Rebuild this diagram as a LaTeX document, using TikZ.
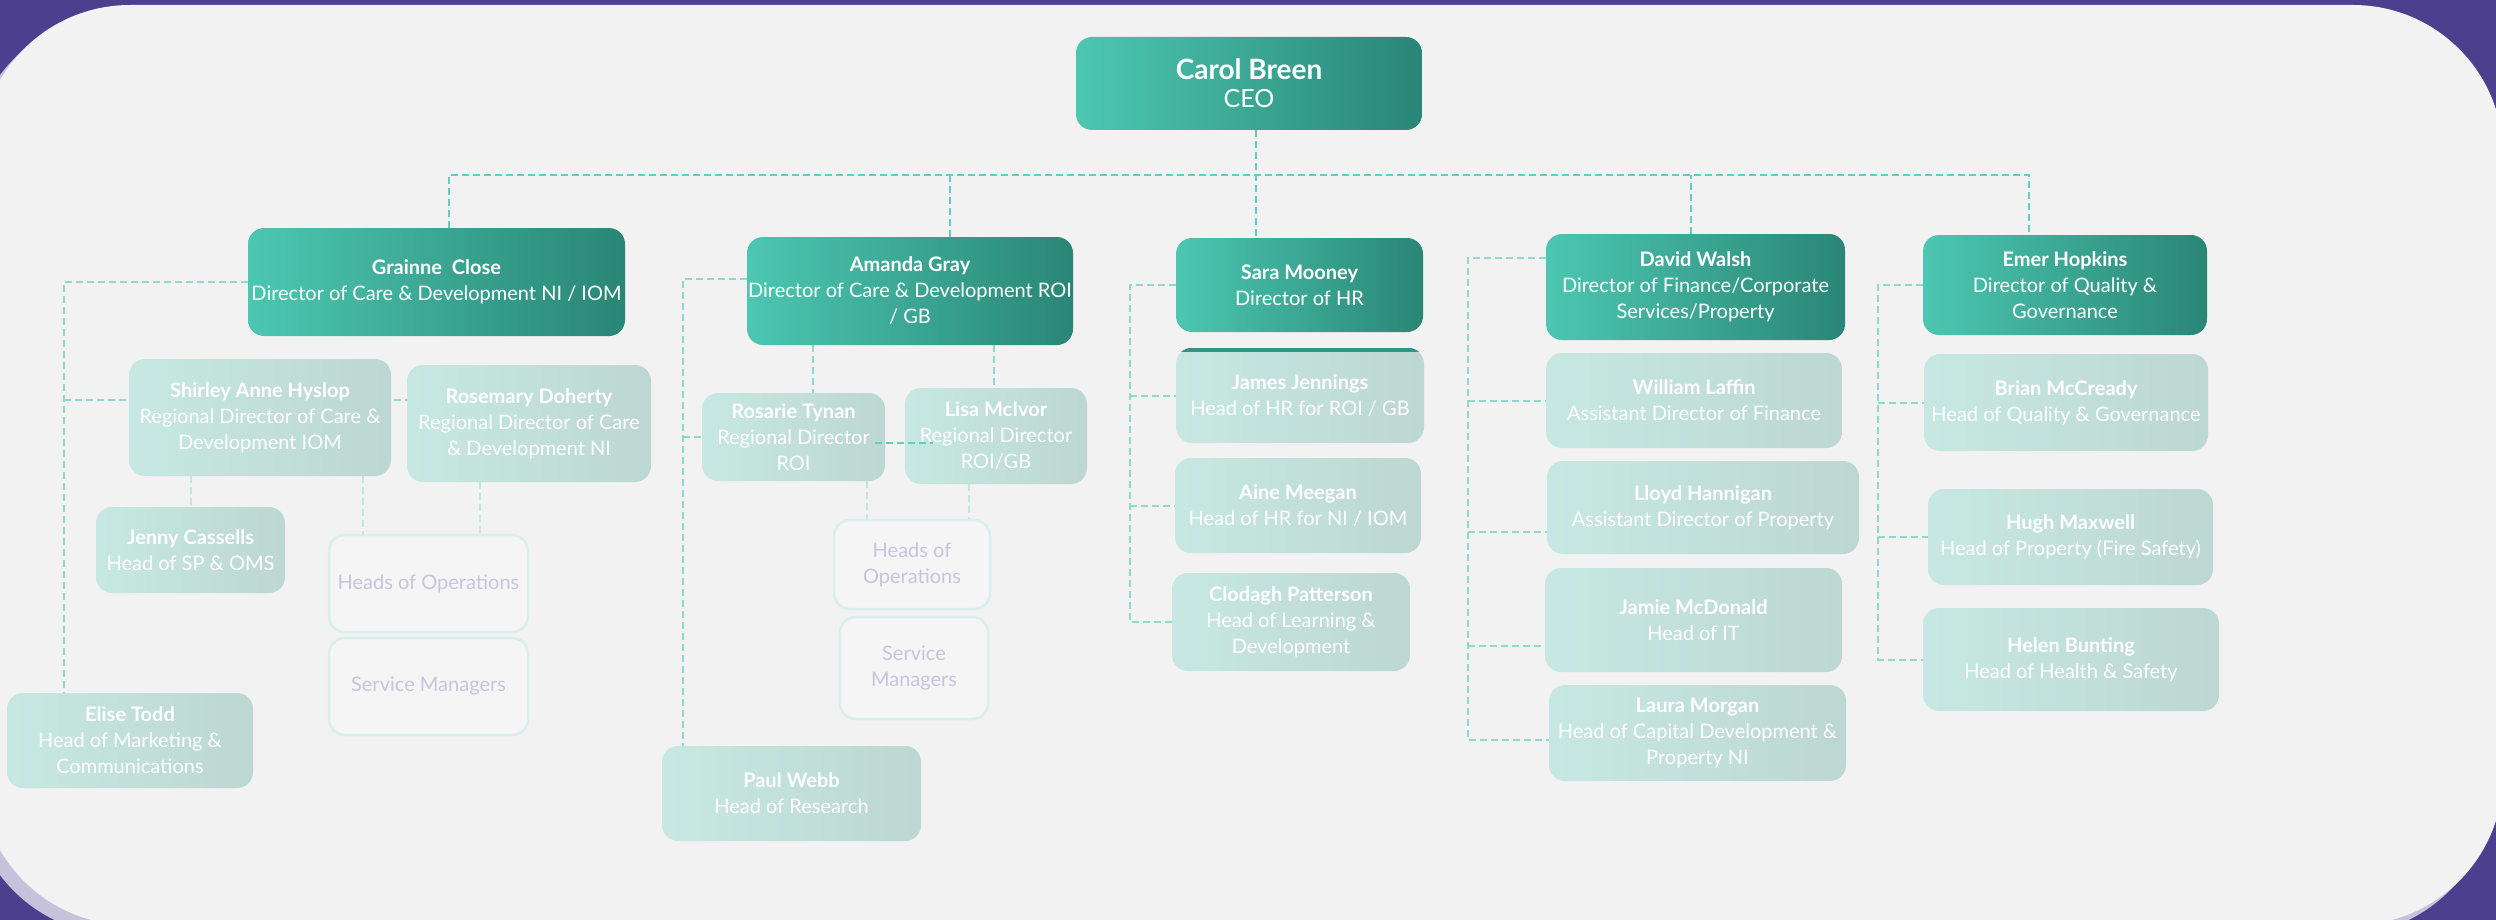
\documentclass[tikz,border=0pt]{standalone}
\usepackage{fontspec}
\setmainfont{Lato}
\definecolor{purp}{HTML}{4B3F8E}
\definecolor{shad}{HTML}{C6C2DC}
\definecolor{bgc}{HTML}{F2F2F2}
\definecolor{dirL}{HTML}{4CC7B1}
\definecolor{dirR}{HTML}{2A8676}
\definecolor{subL}{HTML}{C7E8E2}
\definecolor{subR}{HTML}{BDD7D2}
\definecolor{opsB}{HTML}{DAEFEB}
\definecolor{opsF}{HTML}{F5F5F5}
\definecolor{opsT}{HTML}{C8C4DD}
\definecolor{lnA}{HTML}{5FCFBF}
\definecolor{lnB}{HTML}{8ED9CD}
\definecolor{lnC}{HTML}{C2E6E0}
\newcommand{\pname}[1]{\textbf{#1}}
\pgfdeclarelayer{bglayer}
\pgfsetlayers{bglayer,main}
\tikzset{
  dirbox/.style={rounded corners=16pt, left color=dirL, right color=dirR, text=white, align=center, inner sep=0pt, font=\fontsize{20}{26}\selectfont},
  subbox/.style={rounded corners=16pt, left color=subL, right color=subR, text=white, align=center, inner sep=0pt, font=\fontsize{20}{26}\selectfont},
  opsbox/.style={rounded corners=16pt, draw=opsB, line width=2.5pt, fill=opsF, text=opsT, align=center, inner sep=0pt, font=\fontsize{20}{26}\selectfont},
  link/.style={draw=lnA, line width=2pt, dash pattern=on 7pt off 4pt},
  linkb/.style={draw=lnB, line width=2pt, dash pattern=on 7pt off 4pt},
  linkc/.style={draw=lnC, line width=2pt, dash pattern=on 7pt off 4pt},
}
\begin{document}
\begin{tikzpicture}[x=1pt,y=-1pt]
\useasboundingbox (0,0) rectangle (2496,920);
\begin{pgfonlayer}{bglayer}
\fill[purp] (0,0) rectangle (2496,920);
\fill[shad, rounded corners=150pt] (-30,15) rectangle (2493,935);
\fill[bgc, rounded corners=150pt] (-20,5) rectangle (2503,925);
\end{pgfonlayer}

% directors
\node[dirbox, minimum width=346pt, minimum height=93pt] (ceo) at (1249,83.5)
  {\fontsize{28}{32}\selectfont\pname{Carol Breen}\\[2pt]\fontsize{25}{30}\selectfont CEO};
\node[dirbox, minimum width=377pt, minimum height=108pt] (gr) at (436.5,282)
  {\pname{Grainne\ \ Close}\\Director of Care \& Development NI / IOM};
\node[dirbox, minimum width=326pt, minimum height=108pt] (am) at (910,291)
  {\pname{Amanda Gray}\\Director of Care \& Development ROI\\/ GB};
\node[dirbox, minimum width=247pt, minimum height=94pt] (sm) at (1299.5,285)
  {\pname{Sara Mooney}\\Director of HR};
\node[dirbox, minimum width=299pt, minimum height=106pt] (dw) at (1695.5,287)
  {\pname{David Walsh}\\Director of Finance/Corporate\\Services/Property};
\node[dirbox, minimum width=284pt, minimum height=100pt] (em) at (2065,285)
  {\pname{Emer Hopkins}\\Director of Quality \&\\Governance};

% Grainne group
\node[subbox, minimum width=262pt, minimum height=117pt] (sh) at (260,417.5)
  {\pname{Shirley Anne Hyslop}\\Regional Director of Care \&\\Development IOM};
\node[subbox, minimum width=244pt, minimum height=117pt] (ro) at (529,423.5)
  {\pname{Rosemary Doherty}\\Regional Director of Care\\\& Development NI};
\node[subbox, minimum width=189pt, minimum height=86pt] (je) at (190.5,550)
  {\pname{Jenny Cassells}\\Head of SP \& OMS};
\node[subbox, minimum width=246pt, minimum height=95pt] (el) at (130,740.5)
  {\pname{Elise Todd}\\Head of Marketing \&\\Communications};
\node[opsbox, minimum width=199pt, minimum height=97pt] (ho1) at (428.5,583.5)
  {Heads of Operations};
\node[opsbox, minimum width=199pt, minimum height=97pt] (sv1) at (428.5,686.5)
  {Service Managers};

% Amanda group
\node[subbox, minimum width=183pt, minimum height=88pt] (rt) at (793.5,437)
  {\pname{Rosarie Tynan}\\Regional Director\\ROI};
\node[subbox, minimum width=182pt, minimum height=96pt] (li) at (996,436)
  {\pname{Lisa McIvor}\\Regional Director\\ROI/GB};
\node[opsbox, minimum width=156pt, minimum height=89pt] (ho2) at (912,564.5)
  {Heads of\\Operations};
\node[opsbox, minimum width=148pt, minimum height=102pt] (sv2) at (914,668)
  {Service\\Managers};
\node[subbox, minimum width=259pt, minimum height=95pt] (pw) at (791.5,793.5)
  {\pname{Paul Webb}\\Head of Research};

% Sara group
\node[subbox, minimum width=248pt, minimum height=95pt] (jj) at (1300,395.5)
  {\pname{James Jennings}\\Head of HR for ROI / GB};
\node[subbox, minimum width=246pt, minimum height=95pt] (ae) at (1298,505.5)
  {\pname{Aine Meegan}\\Head of HR for NI / IOM};
\node[subbox, minimum width=238pt, minimum height=98pt] (cp) at (1291,622)
  {\pname{Clodagh Patterson}\\Head of Learning \&\\Development};

% David group
\node[subbox, minimum width=296pt, minimum height=95pt] (wl) at (1694,400.5)
  {\pname{William Laffin}\\Assistant Director of Finance};
\node[subbox, minimum width=312pt, minimum height=93pt] (lh) at (1703,507.5)
  {\pname{Lloyd Hannigan}\\Assistant Director of Property};
\node[subbox, minimum width=297pt, minimum height=104pt] (jm) at (1693.5,620)
  {\pname{Jamie McDonald}\\Head of IT};
\node[subbox, minimum width=297pt, minimum height=96pt] (lm) at (1697.5,733)
  {\pname{Laura Morgan}\\Head of Capital Development \&\\Property NI};

% Emer group
\node[subbox, minimum width=284pt, minimum height=97pt] (bm) at (2066,402.5)
  {\pname{Brian McCready}\\Head of Quality \& Governance};
\node[subbox, minimum width=285pt, minimum height=96pt] (hm) at (2070.5,537)
  {\pname{Hugh Maxwell}\\Head of Property (Fire Safety)};
\node[subbox, minimum width=296pt, minimum height=103pt] (hb) at (2071,659.5)
  {\pname{Helen Bunting}\\Head of Health \& Safety};

% teal strip along the top of James box
\begin{scope}
\clip[rounded corners=16pt] (jj.north west) rectangle (jj.south east);
\fill[dirR!75!dirL] (jj.north west) rectangle ([yshift=-4pt]jj.north east);
\end{scope}

% connectors
\coordinate (busY) at (0,175);
\coordinate (xg) at (449,0);
\coordinate (xa) at (950,0);
\coordinate (xc) at (1256,0);
\coordinate (xd) at (1691,0);
\coordinate (xe) at (2029,0);
\coordinate (xG) at (64,0);
\coordinate (gB) at (64,400);
\coordinate (x2) at (363,0);
\coordinate (x3) at (480,0);
\coordinate (aJ) at (683,279);
\coordinate (x4) at (813,0);
\coordinate (x5) at (994,0);
\coordinate (x6) at (867,0);
\coordinate (x7) at (969,0);
\coordinate (xS) at (1130,0);
\coordinate (dJ) at (1468,258);
\coordinate (dE) at (1468,740);
\coordinate (dL) at (1468,532);
\coordinate (dM) at (1468,646);
\coordinate (xE) at (1878,0);
\coordinate (rl1) at (875,443);
\coordinate (rl2) at (933,443);

\begin{pgfonlayer}{bglayer}
\draw[link] (gr.north -| xg) -- (busY -| xg) -- (busY -| xe) -- (em.north -| xe);
\draw[link] (am.north -| xa) -- (busY -| xa);
\draw[link] (ceo.south -| xc) -- (sm.north -| xc);
\draw[link] (dw.north -| xd) -- (busY -| xd);
% Grainne
\draw[linkb] (gr.west) -| (el.north -| xG);
\draw[linkb] (gB) -- (gB -| ro.west);
\draw[linkc] (sh.south -| je.north) -- (je.north);
\draw[linkc] (sh.south -| x2) -- (ho1.north -| x2);
\draw[linkc] (ro.south -| x3) -- (ho1.north -| x3);
% Amanda
\draw[linkb] (aJ -| am.west) -- (aJ) -- (pw.north -| aJ);
\draw[linkb] (rt.west -| aJ) -- (rt.west);
\draw[linkb] (am.south -| x4) -- (rt.north -| x4);
\draw[linkb] (am.south -| x5) -- (li.north -| x5);
\draw[linkc] (rt.south -| x6) -- (ho2.north -| x6);
\draw[linkc] (li.south -| x7) -- (ho2.north -| x7);
% Sara
\draw[linkb] (sm.west) -| (cp.west -| xS) -- (cp.west);
\draw[linkb] (jj.west -| xS) -- (jj.west);
\draw[linkb] (ae.west -| xS) -- (ae.west);
% David
\draw[linkb] (dJ -| dw.west) -- (dJ) -- (dE) -- (dE -| lm.west);
\draw[linkb] (wl.west -| dJ) -- (wl.west);
\draw[linkb] (dL) -- (dL -| lh.west);
\draw[linkb] (dM) -- (dM -| jm.west);
% Emer
\draw[linkb] (em.west) -| (hb.west -| xE) -- (hb.west);
\draw[linkb] (bm.west -| xE) -- (bm.west);
\draw[linkb] (hm.west -| xE) -- (hm.west);
\end{pgfonlayer}
\draw[link] (rl1) -- (rl2);
\end{tikzpicture}
\end{document}
